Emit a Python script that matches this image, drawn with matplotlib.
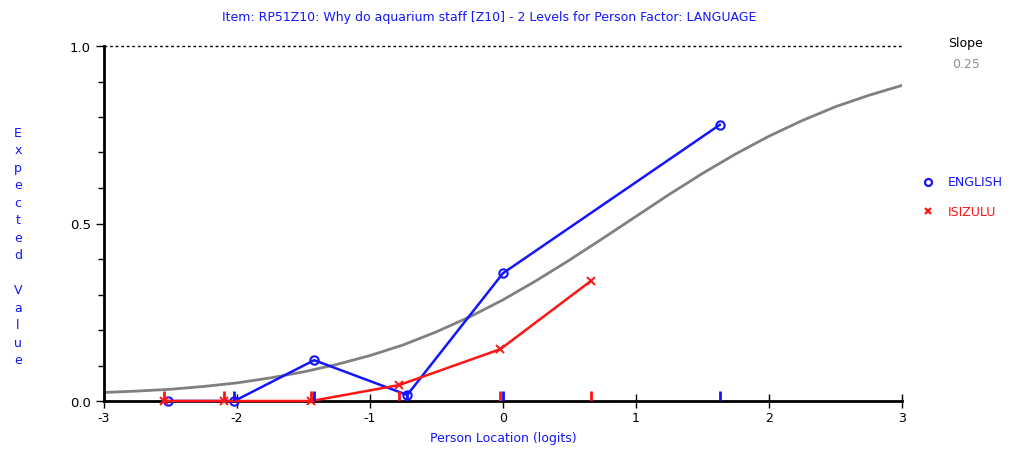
import numpy as np
import matplotlib
matplotlib.use("Agg")
import matplotlib.pyplot as plt
from matplotlib.ticker import MultipleLocator

plt.rcParams["axes.unicode_minus"] = False

# Class intervals (mean person location) and observed means per group
english_x = [-2.52, -2.02, -1.42, -0.72, 0.0, 1.63]
english_y = [0.0, 0.0, 0.115, 0.017, 0.36, 0.778]
isizulu_x = [-2.55, -2.10, -1.44, -0.78, -0.02, 0.66]
isizulu_y = [0.0, 0.0, 0.0, 0.045, 0.146, 0.338]

# Expected value curve
curve_x = [-3, -2.75, -2.5, -2.25, -2, -1.75, -1.5, -1.25, -1, -0.75, -0.5, -0.25, 0,
           0.25, 0.5, 0.75, 1, 1.25, 1.5, 1.75, 2, 2.25, 2.5, 2.75, 3]
curve_y = [0.024, 0.028, 0.033, 0.041, 0.051, 0.065, 0.082, 0.103, 0.128, 0.158, 0.195, 0.237, 0.285,
           0.339, 0.397, 0.458, 0.52, 0.582, 0.641, 0.696, 0.746, 0.79, 0.829, 0.861, 0.889]

slope = "0.25"
title = "Item: RP51Z10: Why do aquarium staff [Z10] - 2 Levels for Person Factor: LANGUAGE"

blue = "#1414ff"
red = "#ff1414"
font = "DejaVu Sans"

fig = plt.figure(figsize=(10.2, 4.52), dpi=100)
ax = fig.add_axes([104 / 1020, 50 / 452, 798 / 1020, 355 / 452])

ax.plot(curve_x, curve_y, color="#808080", lw=2.0, zorder=2)
ax.plot(english_x, english_y, color=blue, lw=1.8, marker="o", ms=6,
        mfc="none", mew=1.5, zorder=3, clip_on=False)
ax.plot(isizulu_x, isizulu_y, color=red, lw=1.8, marker="x", ms=5.5,
        mew=1.4, zorder=4, clip_on=False)

# rug ticks at class locations
ax.vlines(english_x[1:], 0, 0.028, color=blue, lw=2, zorder=5)
ax.vlines(isizulu_x, 0, 0.028, color=red, lw=2, zorder=5)

ax.axhline(1.0, color="black", lw=1, ls=(0, (2, 2)), clip_on=False)

ax.set_xlim(-3, 3)
ax.set_ylim(0, 1)
ax.spines["top"].set_visible(False)
ax.spines["right"].set_visible(False)
ax.spines["left"].set_linewidth(2)
ax.spines["bottom"].set_linewidth(2)
ax.spines["bottom"].set_zorder(1)

ax.set_xticks(range(-3, 4))
ax.set_yticks([0, 0.5, 1.0])
ax.set_yticklabels(["0.0", "0.5", "1.0"])
ax.yaxis.set_minor_locator(MultipleLocator(0.1))
ax.tick_params(axis="x", direction="inout", length=10, width=1, labelsize=9, pad=2)
ax.tick_params(axis="y", which="major", direction="out", length=6, width=1, labelsize=9.5)
ax.tick_params(axis="y", which="minor", direction="out", length=4, width=1)
for lab in ax.get_xticklabels() + ax.get_yticklabels():
    lab.set_family(font)

fig.text(489 / 1020, 1 - 18 / 452, title, color=blue, fontsize=9, ha="center", va="center", family=font)
fig.text(503 / 1020, 1 - 439 / 452, "Person Location (logits)", color=blue, fontsize=9,
         ha="center", va="center", family=font)
fig.text(18 / 1020, 1 - 247 / 452, "\n".join("Expected Value"), color=blue, fontsize=9,
         ha="center", va="center", family=font, linespacing=1.45)

fig.text(966 / 1020, 1 - 43 / 452, "Slope", color="black", fontsize=9, ha="center", va="center", family=font)
fig.text(966 / 1020, 1 - 65 / 452, slope, color="#909090", fontsize=9, ha="center", va="center", family=font)

fig.lines.append(plt.Line2D([928 / 1020], [1 - 183 / 452], transform=fig.transFigure, marker="o",
                            ms=5, mfc="none", mec=blue, mew=1.6, ls="none"))
fig.text(948 / 1020, 1 - 183 / 452, "ENGLISH", color=blue, fontsize=9, ha="left", va="center", family=font)
fig.lines.append(plt.Line2D([928 / 1020], [1 - 212 / 452], transform=fig.transFigure, marker="x",
                            ms=5, mec=red, mew=1.6, ls="none"))
fig.text(948 / 1020, 1 - 212 / 452, "ISIZULU", color=red, fontsize=9, ha="left", va="center", family=font)

fig.savefig("out.png", dpi=100)
